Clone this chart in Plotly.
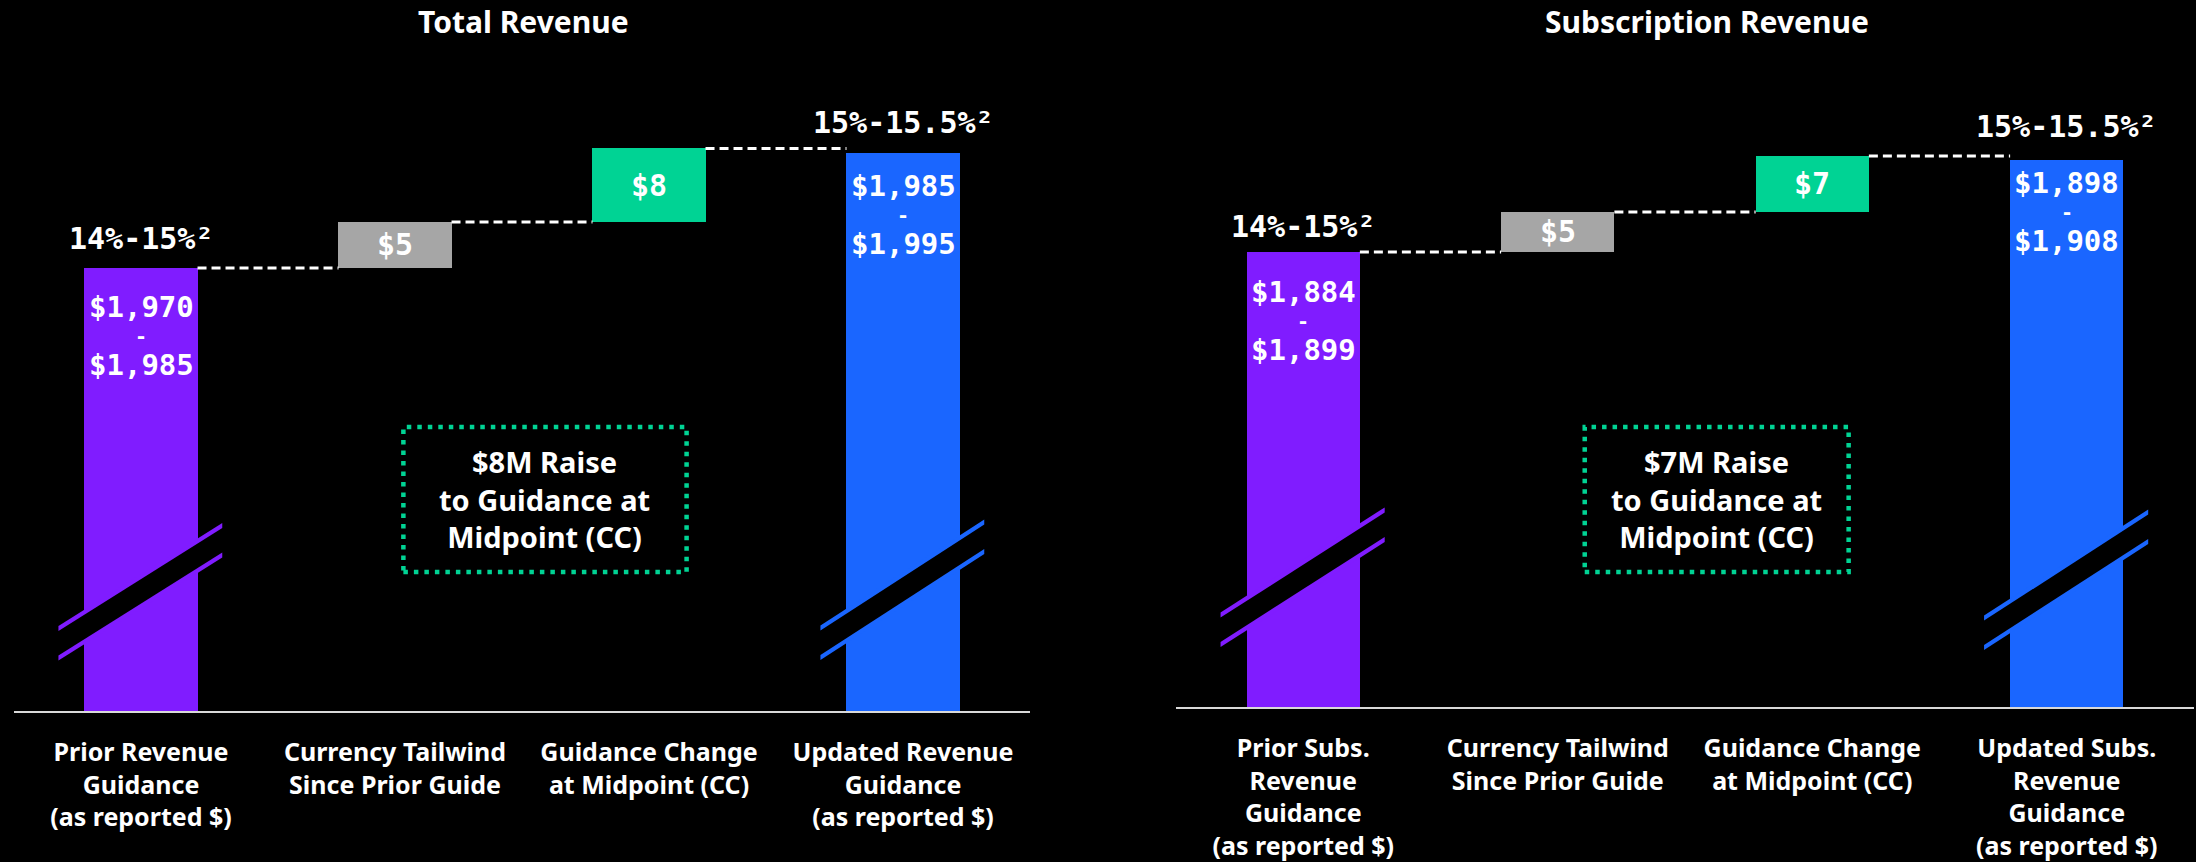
import plotly.graph_objects as go

# ---------------- data ----------------
panel_titles = ["Total Revenue", "Subscription Revenue"]
tick_labels_total = ["Prior Revenue<br>Guidance<br>(as reported $)",
                     "Currency Tailwind<br>Since Prior Guide",
                     "Guidance Change<br>at Midpoint (CC)",
                     "Updated Revenue<br>Guidance<br>(as reported $)"]
tick_labels_subs = ["Prior Subs.<br>Revenue<br>Guidance<br>(as reported $)",
                    "Currency Tailwind<br>Since Prior Guide",
                    "Guidance Change<br>at Midpoint (CC)",
                    "Updated Subs.<br>Revenue<br>Guidance<br>(as reported $)"]
total_prior_range = [1970, 1985]
total_updated_range = [1985, 1995]
total_steps = [5, 8]
subs_prior_range = [1884, 1899]
subs_updated_range = [1898, 1908]
subs_steps = [5, 7]
growth_prior = "14%-15%²"
growth_updated = "15%-15.5%²"
raise_total = "$8M Raise<br>to Guidance at<br>Midpoint (CC)"
raise_subs = "$7M Raise<br>to Guidance at<br>Midpoint (CC)"

# ---------------- style ----------------
W, H = 2196, 862
PURPLE = "#801CFF"
BLUE = "#1A66FF"
GREEN = "#00D394"
GRAY = "#A6A6A6"
BG = "#000000"
SANS = "Noto Sans"
MONO = "DejaVu Sans Mono"
BAR_W = 0.445
LINE_GAP = 29          # px between lines of the range labels

panels = [
    dict(prior=total_prior_range, updated=total_updated_range, steps=total_steps,
         ticks=tick_labels_total, title=panel_titles[0], raise_txt=raise_total,
         xdom=(14, 1030), bottom=711, top=60, scale=9.2, prior_top_px=268,
         title_x=523, box=(1.033, 2.148, 427, 572), box_cx=1.59,
         range_mid=[68, 62], growth_shift=[30, 30],
         breaks=[(628.5, 525.5), (628, 522)]),
    dict(prior=subs_prior_range, updated=subs_updated_range, steps=subs_steps,
         ticks=tick_labels_subs, title=panel_titles[1], raise_txt=raise_subs,
         xdom=(1176, 2194), bottom=707, top=60, scale=8.0, prior_top_px=252,
         title_x=1707, box=(1.106, 2.143, 427, 572), box_cx=1.625,
         range_mid=[69, 52], growth_shift=[25, 33],
         breaks=[(615, 510), (618, 512)]),
]


def py(p):
    return 1 - p / H


fig = go.Figure()
shapes = []
annotations = []

for k, P in enumerate(panels):
    xa = "x" if k == 0 else "x2"
    ya = "y" if k == 0 else "y2"
    xkey = "xaxis" if k == 0 else "xaxis2"
    ykey = "yaxis" if k == 0 else "yaxis2"

    prior_mid = sum(P["prior"]) / 2
    upd_mid = sum(P["updated"]) / 2
    floor = prior_mid - (P["bottom"] - P["prior_top_px"]) / P["scale"]
    ceil = floor + (P["bottom"] - P["top"]) / P["scale"]

    # bars
    levels = [prior_mid]
    for s in P["steps"]:
        levels.append(levels[-1] + s)
    bases = [floor, levels[0], levels[1], floor]
    heights = [prior_mid - floor, P["steps"][0], P["steps"][1], upd_mid - floor]
    colors = [PURPLE, GRAY, GREEN, BLUE]
    fig.add_trace(go.Bar(x=[0, 1, 2, 3], y=heights, base=bases, width=BAR_W,
                         marker=dict(color=colors, line=dict(width=0)),
                         xaxis=xa, yaxis=ya, showlegend=False, hoverinfo="skip"))

    # connectors
    for i, lv in enumerate(levels):
        fig.add_trace(go.Scatter(x=[i + BAR_W / 2, i + 1 - BAR_W / 2], y=[lv, lv],
                                 mode="lines", line=dict(color="white", width=3, dash="9px,5px"),
                                 xaxis=xa, yaxis=ya, showlegend=False, hoverinfo="skip"))

    # step labels
    for i, s in enumerate(P["steps"]):
        annotations.append(dict(x=i + 1, y=bases[i + 1] + s / 2, xref=xa, yref=ya,
                                text=f"${s}", showarrow=False, yanchor="middle",
                                font=dict(family=MONO, size=30, color="white", weight="bold")))

    # range labels inside total bars + growth labels above
    for j, (xi, rng, top) in enumerate([(0, P["prior"], prior_mid), (3, P["updated"], upd_mid)]):
        mid = P["range_mid"][j]
        for t, off, sz in [(f"${rng[0]:,}", -LINE_GAP, 29), ("-", 0, 20), (f"${rng[1]:,}", LINE_GAP, 29)]:
            annotations.append(dict(x=xi, y=top, xref=xa, yref=ya, text=t, showarrow=False,
                                    yanchor="middle", yshift=-(mid + off),
                                    font=dict(family=MONO, size=sz, color="white", weight="bold")))
        annotations.append(dict(x=xi, y=top, xref=xa, yref=ya,
                                text=[growth_prior, growth_updated][j], showarrow=False,
                                yanchor="middle", yshift=P["growth_shift"][j],
                                font=dict(family=MONO, size=30, color="white", weight="bold")))

    # title
    annotations.append(dict(x=P["title_x"] / W, y=py(22), xref="paper", yref="paper",
                            text=P["title"], showarrow=False, yanchor="middle", xanchor="center",
                            font=dict(family=SANS, size=30, color="white", weight="bold")))

    # raise box
    x0, x1, ytop, ybot = P["box"]
    shapes.append(dict(type="rect", xref=xa, yref="paper", x0=x0, x1=x1, y0=py(ybot), y1=py(ytop),
                       line=dict(color=GREEN, width=4.5, dash="4.5px,6px"), fillcolor="rgba(0,0,0,0)"))
    annotations.append(dict(x=P["box_cx"], y=py((ytop + ybot) / 2), xref=xa, yref="paper",
                            text=P["raise_txt"], showarrow=False, yanchor="middle",
                            font=dict(family=SANS, size=29, color="white", weight="bold")))

    # axis break marks
    for (xi, col), (yl, yr) in zip([(0, PURPLE), (3, BLUE)], P["breaks"]):
        xl, xr = xi - 0.325, xi + 0.32
        gap = 29.5
        half = 2.6
        shapes.append(dict(type="path", xref=xa, yref="paper", line=dict(width=0), fillcolor=BG,
                           path=f"M {xl},{py(yl)} L {xr},{py(yr)} L {xr},{py(yr + gap)} L {xl},{py(yl + gap)} Z"))
        for off in (0, gap):
            shapes.append(dict(type="path", xref=xa, yref="paper", line=dict(width=0), fillcolor=col,
                               path=(f"M {xl},{py(yl + off - half)} L {xr},{py(yr + off - half)} "
                                     f"L {xr},{py(yr + off + half)} L {xl},{py(yl + off + half)} Z")))

    fig.update_layout({
        xkey: dict(domain=[P["xdom"][0] / W, P["xdom"][1] / W], range=[-0.5, 3.5],
                   tickvals=[0, 1, 2, 3], ticktext=P["ticks"], showgrid=False, zeroline=False,
                   showline=True, linecolor="#D9D9D9", linewidth=2, ticks="",
                   tickfont=dict(family=SANS, size=25, color="white", weight="bold"),
                   ticklabelstandoff=18, anchor=ya, fixedrange=True),
        ykey: dict(domain=[py(P["bottom"]), py(P["top"])], range=[floor, ceil], visible=False,
                   showgrid=False, zeroline=False, anchor=xa, fixedrange=True),
    })

fig.update_layout(width=W, height=H, margin=dict(l=0, r=0, t=0, b=0),
                  paper_bgcolor=BG, plot_bgcolor=BG, shapes=shapes, annotations=annotations,
                  showlegend=False, bargap=0)

fig.write_html("out.html", config={"displayModeBar": False},
               post_script="document.body.style.margin='0';document.body.style.background='#000';")
